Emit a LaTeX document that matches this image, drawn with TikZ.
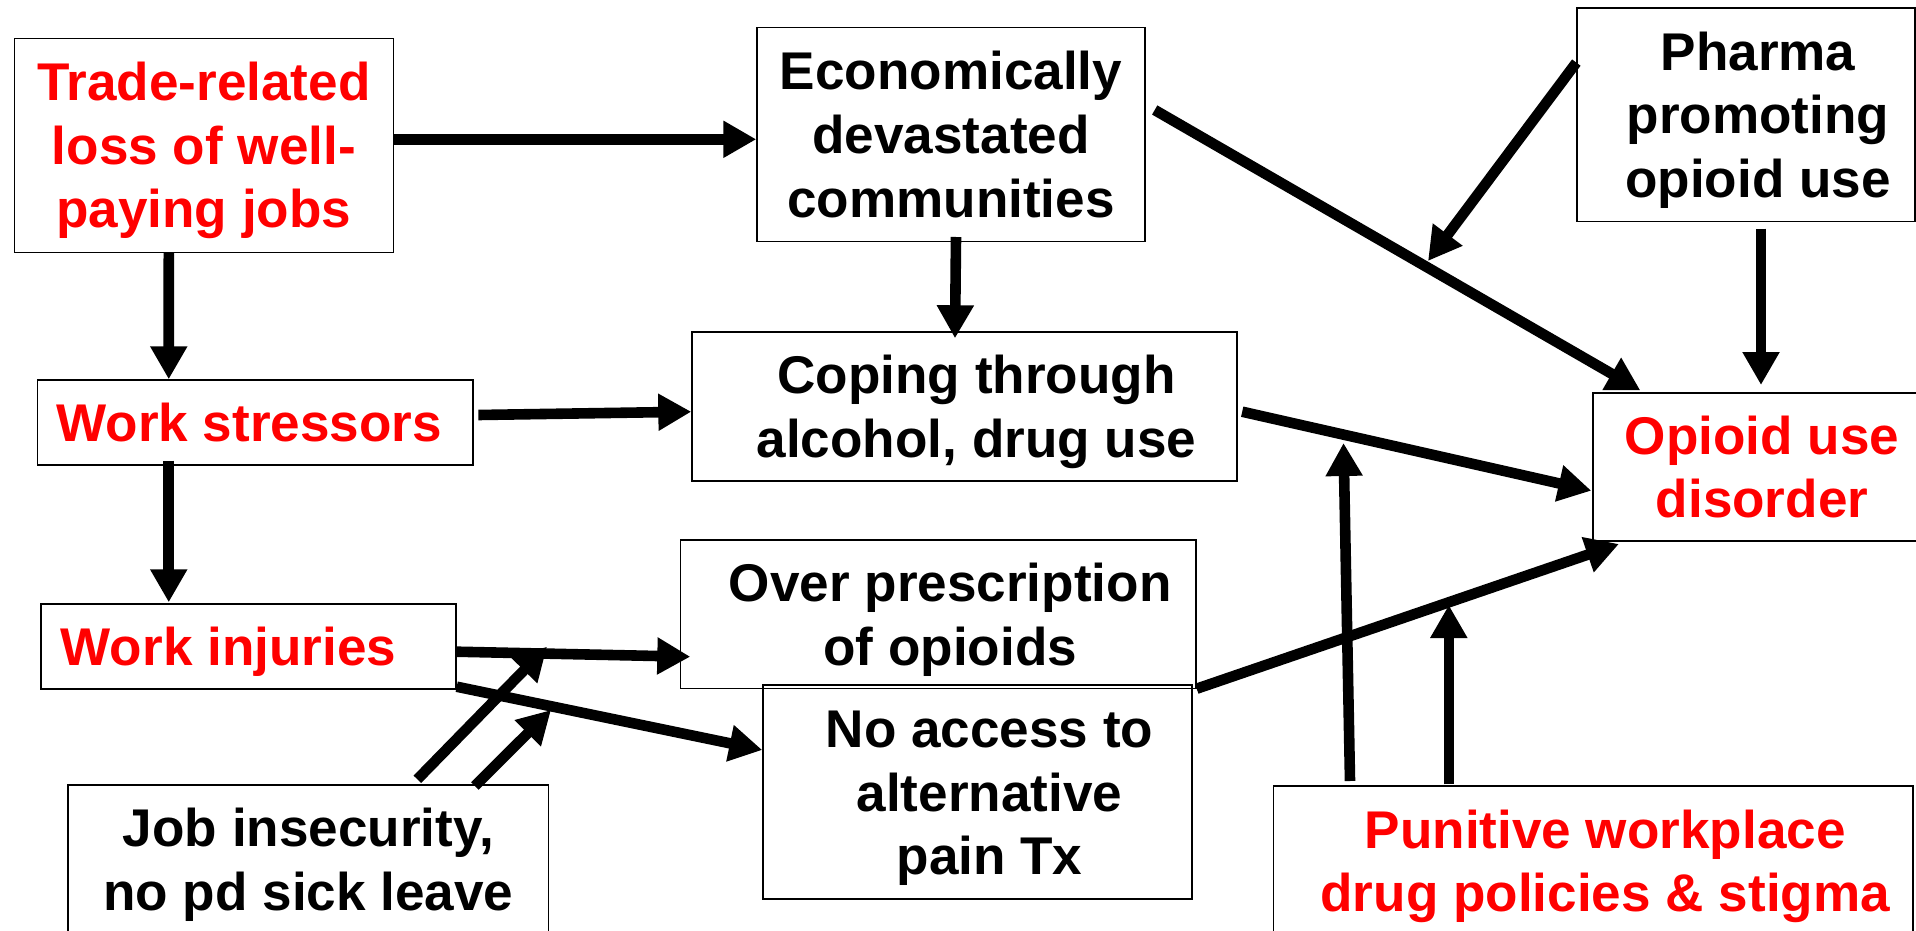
\documentclass[tikz,border=0pt]{standalone}
\usepackage{fontspec}
\setmainfont{Liberation Sans}
\usetikzlibrary{calc,arrows.meta}
\tikzset{>={Triangle[length=16.5pt,width=17.5pt]}}
\tikzstyle{factor} = [rectangle, black, draw, line width=0.7pt, inner sep=0pt, align=center, font=\bfseries\fontsize{26.55}{31.8}\selectfont]
\tikzstyle{cause}  = [factor, text=red]
\tikzstyle{link}   = [->, line width=5.3pt]
% struts for the first and the last line of a box
\newcommand{\sx}{\rule{0pt}{0.936em}}
\newcommand{\sy}{\rule[-0.22em]{0pt}{0pt}}

\begin{document}
\begin{tikzpicture}[x=0.5pt, y=-0.5pt]
      \path[use as bounding box, fill=white] (0,0) rectangle (1916,931);
      % boxes
      \node[cause, minimum width=189.5pt, minimum height=107pt] (trade) at (203.8,145.3) {\sx Trade-related\\loss of well-\\paying jobs\sy};
      \node[factor, minimum width=194pt, minimum height=106.8pt] (econ) at (951,134.5) {\sx Economically\\devastated\\communities\sy};
      \node[factor, minimum width=169pt, minimum height=106.75pt] (pharma) at (1746,114.6) {\hspace*{12pt}\sx Pharma\\\hspace*{12pt}promoting\\\hspace*{12pt}opioid use\sy};
      \node[cause, minimum width=217.75pt, minimum height=42.5pt] (stress) at (255.25,422.5) {\hspace*{-6pt}\sx Work stressors\sy};
      \node[factor, minimum width=272.5pt, minimum height=74.5pt] (coping) at (964.5,406.5) {\hspace*{12pt}\sx Coping through\\\hspace*{12pt}alcohol, drug use\sy};
      \node[cause, minimum width=169pt, minimum height=74pt] (opioid) at (1762,467) {\sx Opioid use\\disorder\sy};
      \node[cause, minimum width=207.5pt, minimum height=42.5pt] (injury) at (248.5,646.5) {\hspace*{-20pt}\sx Work injuries\sy};
      \node[factor, minimum width=257.8pt, minimum height=74.35pt] (overrx) at (938.2,614.35) {\hspace*{12pt}\sx Over prescription\\\hspace*{12pt}of opioids\sy};
      \node[factor, minimum width=214.5pt, minimum height=107pt] (noalt) at (977.5,792) {\hspace*{12pt}\sx No access to\\\hspace*{12pt}alternative\\\hspace*{12pt}pain Tx\sy};
      \node[factor, minimum width=240.35pt, minimum height=74.7pt] (jobs) at (308.35,859.7) {\sx Job insecurity,\\no pd sick leave\sy};
      \node[cause, minimum width=319.8pt, minimum height=74.8pt] (policy) at (1593.2,860.8) {\hspace*{12pt}\sx Punitive workplace\\\hspace*{12pt}drug policies \& stigma\sy};
      % points where arrows meet other arrows
      \coordinate (hitA) at (1428,261);
      \coordinate (hitB) at (1343.5,443);
      \coordinate (hitC) at (547,646.7);
      \coordinate (hitD) at (551,710);
      \coordinate (hitE) at (1448.8,605);
      % arrows
      \draw[link] ($(trade.east)+(0,-6)$) -- ($(econ.west)+(0,4.8)$);
      \draw[link] ($(trade.south)+(-35,0)$) -- ($(stress.north)+(-86.5,0)$);
      \draw[link] ($(stress.east)+(4.7,-7.5)$) -- ($(coping.west)+(0,5.2)$);
      \draw[link] ($(econ.south)+(5,-5)$) -- ($(coping.north)+(-9.5,7)$);
      \draw[link] ($(econ.east)+(9,-24.5)$) -- ($(opioid.north west)+(48,-2)$);
      \draw[link] ($(pharma.west)+(0,-52)$) -- (hitA);
      \draw[link] ($(pharma.south)+(15,6.6)$) -- ($(opioid.north)+(-1,-7.3)$);
      \draw[link] ($(coping.east)+(4.5,5.2)$) -- ($(opioid.west)+(-1,23.7)$);
      \draw[link] ($(policy.north)+(-243.2,-4.3)$) -- (hitB);
      \draw[link] ($(stress.south)+(-86.5,-5)$) -- ($(injury.north)+(-79.75,-1)$);
      \draw[link] ($(injury.east)+(0,5.2)$) -- ($(overrx.west)+(10.6,42.35)$);
      \draw[link] ($(injury.east)+(0,40.2)$) -- ($(noalt.west)+(0,-42)$);
      \draw[link] ($(jobs.north)+(109,-5)$) -- (hitC);
      \draw[link] ($(jobs.north)+(166.6,1.7)$) -- (hitD);
      \draw[link] ($(overrx.south east)+(0,-0.7)$) -- ($(opioid.south west)+(26.6,2.3)$);
      \draw[link] ($(policy.north)+(-144.4,-1)$) -- (hitE);
\end{tikzpicture}
\end{document}
